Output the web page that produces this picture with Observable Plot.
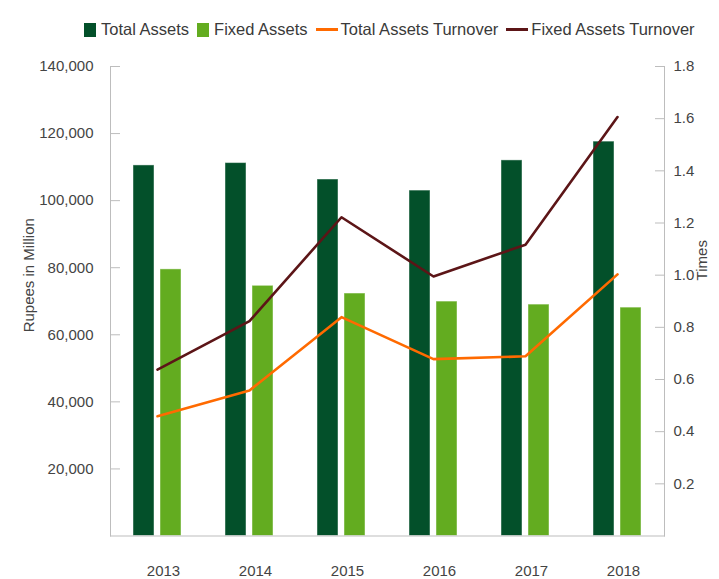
<!DOCTYPE html>
<html>
<head>
<meta charset="utf-8">
<script src="https://cdn.jsdelivr.net/npm/d3@7"></script>
<script src="https://cdn.jsdelivr.net/npm/@observablehq/plot@0.6"></script>
<style>
  html, body { margin: 0; padding: 0; background: #fff; }
  body { width: 719px; height: 579px; overflow: hidden; font-family: "Liberation Sans", Arial, Helvetica, sans-serif; }
  #legend { height: 45px; box-sizing: border-box; padding-left: 84px; padding-top: 14px; display: flex; align-items: center; font-size: 16.5px; color: #3a3a3a; white-space: nowrap; }
  #legend .item { display: inline-flex; align-items: center; margin-right: 8px; }
  #legend .sw { display: inline-block; width: 12px; height: 14px; margin-right: 5px; }
  #legend .ln { display: inline-block; width: 22px; height: 2.5px; margin-right: 3px; }
  #chart svg { display: block; }
</style>
</head>
<body>
<div id="legend"></div>
<div id="chart"></div>
<script>
// ---- data ----
const years = ["2013", "2014", "2015", "2016", "2017", "2018"];
const totalAssets = [110500, 111200, 106300, 103000, 112000, 117600];
const fixedAssets = [79500, 74600, 72300, 69900, 69000, 68100];
const totalAssetsTurnover = [0.459, 0.558, 0.839, 0.678, 0.689, 1.003];
const fixedAssetsTurnover = [0.638, 0.824, 1.222, 0.995, 1.117, 1.606];
const leftTicks = [20000, 40000, 60000, 80000, 100000, 120000, 140000];
const rightTicks = [0.2, 0.4, 0.6, 0.8, 1.0, 1.2, 1.4, 1.6, 1.8];
const seriesNames = ["Total Assets", "Fixed Assets", "Total Assets Turnover", "Fixed Assets Turnover"];
const leftLabel = "Rupees in Million";
const rightLabel = "Times";

// ---- styles ----
const colors = ["#03502a", "#63ac20", "#ff6a00", "#5c1517"];
const leftMax = 140000, rightMax = 1.8;
const k = leftMax / rightMax; // maps right-axis units into left-axis units

const rows = years.map((year, i) => ({
  year,
  ta: totalAssets[i],
  fa: fixedAssets[i],
  tato: totalAssetsTurnover[i],
  fato: fixedAssetsTurnover[i]
}));

// legend
const legend = d3.select("#legend");
seriesNames.forEach((name, i) => {
  const item = legend.append("span").attr("class", "item");
  item.append("span").attr("class", i < 2 ? "sw" : "ln").style("background", colors[i]);
  item.append("span").text(name);
});

const axisColor = "#bdbdbd";
const chart = Plot.plot({
  width: 719,
  height: 534,
  marginLeft: 110,
  marginRight: 55,
  marginTop: 21,
  marginBottom: 43.5,
  style: { fontFamily: '"Liberation Sans", Arial, Helvetica, sans-serif', fontSize: "15px", color: "#444", background: "#fff" },
  x: { type: "band", domain: years, padding: 0, inset: 1 },
  y: { domain: [0, leftMax] },
  marks: [
    Plot.barY(rows, { x: "year", y: "ta", fill: colors[0], insetLeft: 22, insetRight: 49, stroke: "#fff", strokeOpacity: 0.45, strokeWidth: 1 }),
    Plot.barY(rows, { x: "year", y: "fa", fill: colors[1], insetLeft: 49, insetRight: 22, stroke: "#fff", strokeOpacity: 0.45, strokeWidth: 1 }),
    Plot.line(rows, { x: "year", y: d => d.tato * k, stroke: colors[2], strokeWidth: 2.6 }),
    Plot.line(rows, { x: "year", y: d => d.fato * k, stroke: colors[3], strokeWidth: 2.6 }),
    Plot.frame({ anchor: "left", stroke: axisColor }),
    Plot.frame({ anchor: "right", stroke: axisColor }),
    Plot.frame({ anchor: "bottom", stroke: axisColor }),
    Plot.axisY(leftTicks, { anchor: "left", tickSize: -10, tickPadding: 27, stroke: axisColor, tickFormat: d3.format(","), label: null }),
    Plot.axisY(rightTicks.map(t => t * k), { anchor: "right", tickSize: -10, tickPadding: 19, stroke: axisColor, tickFormat: d => (d / k).toFixed(1), label: null }),
    Plot.axisX({ tickSize: 0, tickPadding: 29.5, dx: 6, label: null }),
    Plot.text([leftLabel], { text: d => d, frameAnchor: "left", textAnchor: "middle", rotate: -90, dx: -81, dy: -26, fill: "#444" }),
    Plot.text([rightLabel], { text: d => d, frameAnchor: "right", textAnchor: "middle", rotate: -90, dx: 38, dy: -41, fill: "#444" })
  ]
});
document.getElementById("chart").appendChild(chart);
</script>
</body>
</html>
